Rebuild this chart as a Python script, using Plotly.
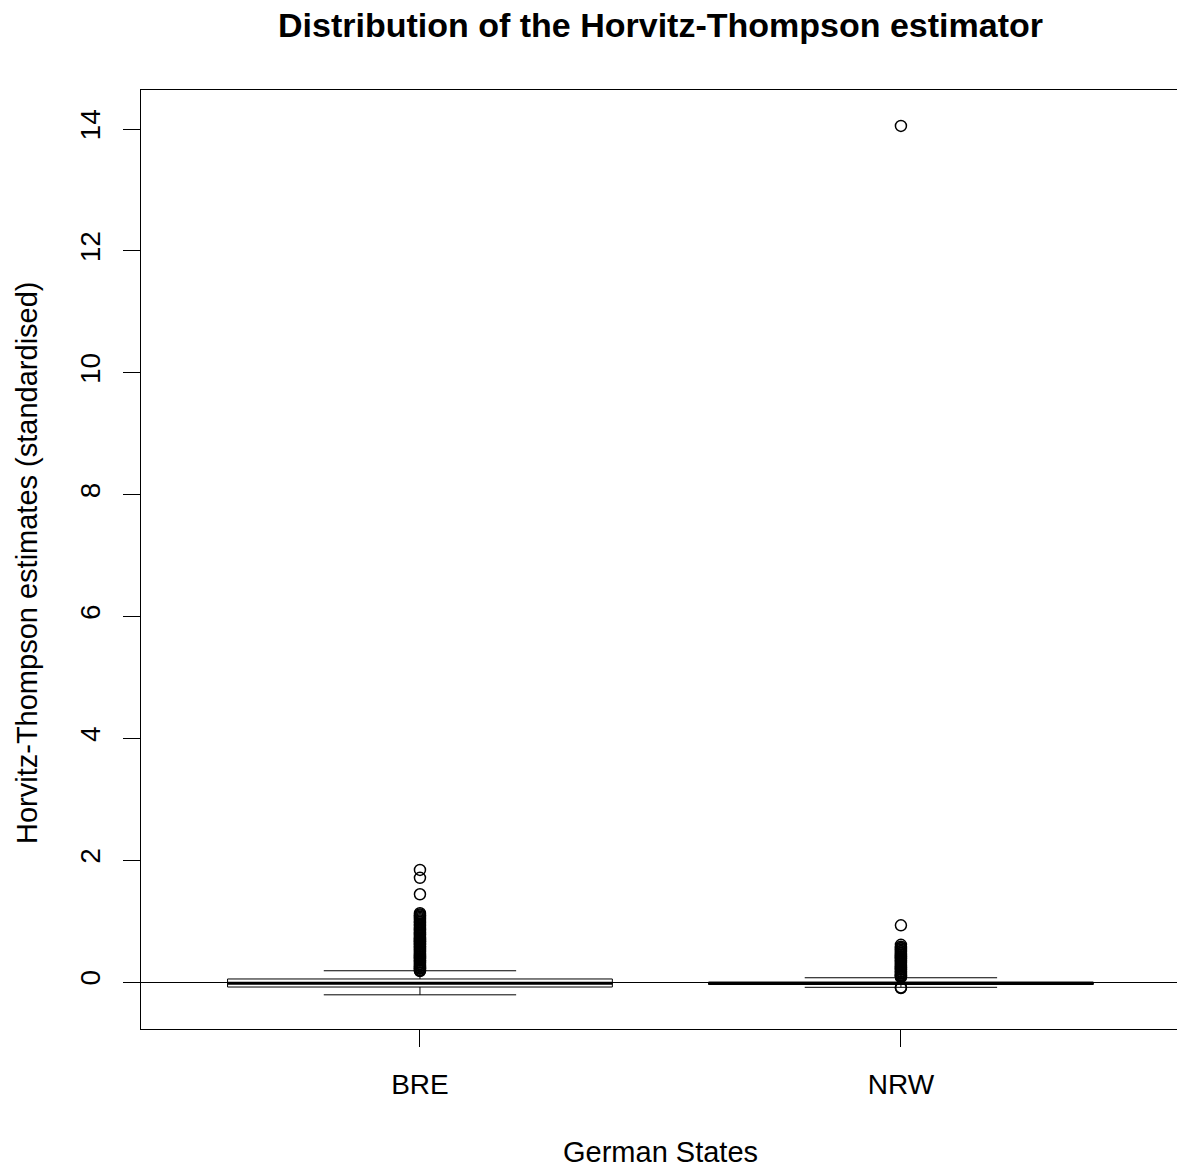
import plotly.graph_objects as go

# ---- data ----
categories = ["BRE", "NRW"]
positions = [1, 2]
q1 = [-0.082, -0.040]
median = [-0.020, -0.020]
q3 = [0.050, -0.003]
lower_whisker = [-0.210, -0.087]
upper_whisker = [0.185, 0.070]

bre_outliers = [1.84, 1.71, 1.44, 1.13, 1.11, 1.09, 1.07, 1.05, 1.03, 1.01, 0.99,
                0.98, 0.96, 0.94, 0.93, 0.91, 0.89, 0.88, 0.86, 0.85, 0.83, 0.81,
                0.80, 0.78, 0.77, 0.75, 0.73, 0.72, 0.70, 0.69, 0.67, 0.66, 0.64,
                0.62, 0.61, 0.59, 0.58, 0.56, 0.55, 0.53, 0.51, 0.50, 0.48, 0.47,
                0.45, 0.44, 0.42, 0.41, 0.39, 0.38, 0.36, 0.35, 0.33, 0.32, 0.30,
                0.29, 0.27, 0.26, 0.24, 0.23, 0.22, 0.20, 0.19, 0.18]
nrw_outliers = [14.05, 0.93, 0.61, 0.58, 0.56, 0.55, 0.53, 0.51, 0.50, 0.48, 0.47,
                0.45, 0.44, 0.42, 0.41, 0.39, 0.38, 0.36, 0.35, 0.33, 0.32, 0.30,
                0.29, 0.27, 0.26, 0.24, 0.23, 0.21, 0.20, 0.18, 0.17, 0.15, 0.14,
                0.12, 0.11, 0.10, 0.09, 0.08, -0.09, -0.10]
outliers = [bre_outliers, nrw_outliers]

y_ticks = [0, 2, 4, 6, 8, 10, 12, 14]

FONT = "Liberation Sans, Arial, sans-serif"
BOX_WIDTH = 0.8

fig = go.Figure()

fig.add_trace(go.Box(
    x=positions, q1=q1, median=median, q3=q3,
    lowerfence=lower_whisker, upperfence=upper_whisker,
    width=BOX_WIDTH, whiskerwidth=0.5, boxpoints=False,
    fillcolor="rgba(255,255,255,0)", line=dict(color="black", width=1),
    showlegend=False, hoverinfo="skip",
))

# thick median lines
for p, m in zip(positions, median):
    fig.add_trace(go.Scatter(
        x=[p - BOX_WIDTH / 2, p + BOX_WIDTH / 2], y=[m, m], mode="lines",
        line=dict(color="black", width=3), showlegend=False, hoverinfo="skip",
    ))

# outliers
for p, pts in zip(positions, outliers):
    fig.add_trace(go.Scatter(
        x=[p] * len(pts), y=pts, mode="markers",
        marker=dict(symbol="circle-open", size=11, color="black",
                    line=dict(color="black", width=1.5)),
        showlegend=False, hoverinfo="skip",
    ))

L, T, B, W, H = 141, 90, 139, 1177, 1168
plot_h = H - T - B

fig.update_layout(
    width=W, height=H,
    margin=dict(l=L, r=0, t=T, b=B),
    paper_bgcolor="white", plot_bgcolor="white",
    font=dict(family=FONT, size=28, color="black"),
    xaxis=dict(
        range=[0.42, 2.574], tickvals=positions, ticktext=categories,
        showline=True, linecolor="black", linewidth=1, mirror=True,
        ticks="outside", ticklen=17, tickcolor="black", tickwidth=1,
        showgrid=False, zeroline=False, ticklabelstandoff=13,
        tickfont=dict(size=28, family=FONT),
    ),
    yaxis=dict(
        range=[-0.771, 14.64], tickvals=y_ticks,
        showline=True, linecolor="black", linewidth=1, mirror=False,
        ticks="outside", ticklen=17, tickcolor="black", tickwidth=1,
        tickangle=-90, showgrid=False,
        zeroline=True, zerolinecolor="black", zerolinewidth=1,
        ticklabelstandoff=12,
        tickfont=dict(size=28, family=FONT),
    ),
    annotations=[
        dict(text="<b>Distribution of the Horvitz-Thompson estimator</b>",
             xref="paper", yref="paper", x=0.501, y=1 + (T - 25) / plot_h,
             xanchor="center", yanchor="middle", showarrow=False,
             font=dict(size=34, family=FONT)),
        dict(text="German States", xref="paper", yref="paper",
             x=0.501, y=-(1152 - (H - B)) / plot_h,
             xanchor="center", yanchor="middle", showarrow=False,
             font=dict(size=29, family=FONT)),
        dict(text="Horvitz-Thompson estimates (standardised)", xref="paper", yref="paper",
             x=-(L - 27) / (W - L), y=0.5 - (563 - 559.5) / plot_h,
             xanchor="center", yanchor="middle", textangle=-90, showarrow=False,
             font=dict(size=29, family=FONT)),
    ],
)

fig.write_html("out.html")
